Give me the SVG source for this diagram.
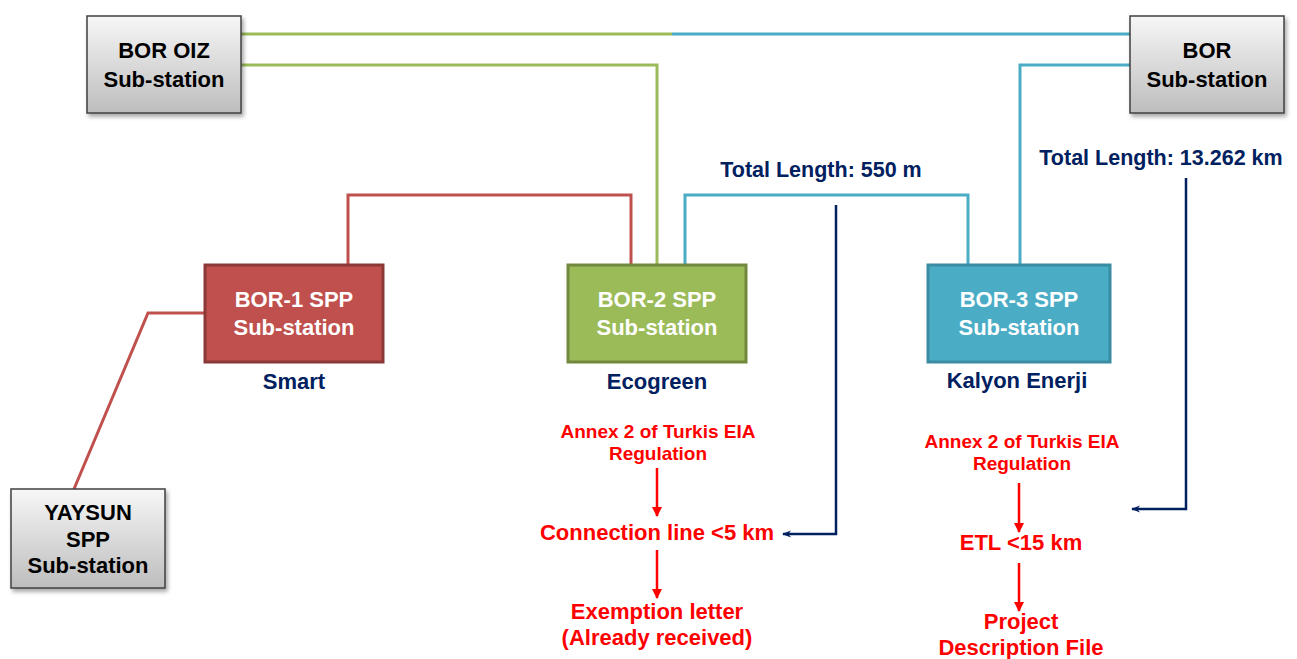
<svg xmlns="http://www.w3.org/2000/svg" width="1297" height="659" viewBox="0 0 1297 659">
<defs>
<linearGradient id="gray" x1="0" y1="0" x2="0" y2="1">
<stop offset="0" stop-color="#f7f7f7"/>
<stop offset="1" stop-color="#bdbdbd"/>
</linearGradient>
<filter id="sh" x="-10%" y="-10%" width="130%" height="130%">
<feDropShadow dx="2" dy="3" stdDeviation="2" flood-color="#000" flood-opacity="0.35"/>
</filter>
<marker id="ar" viewBox="0 0 10 10" refX="9" refY="5" markerWidth="10" markerHeight="10" markerUnits="userSpaceOnUse" orient="auto">
<path d="M0,0 L10,5 L0,10 z" fill="#ff0000"/>
</marker>
<marker id="an" viewBox="0 0 10 10" refX="9" refY="5" markerWidth="9" markerHeight="9" markerUnits="userSpaceOnUse" orient="auto">
<path d="M0,1 L10,5 L0,9 L3,5 z" fill="#002060"/>
</marker>
</defs>
<style>
text{font-family:"Liberation Sans",Arial,sans-serif;font-weight:bold;text-anchor:middle}
.gbox{fill:url(#gray);stroke:#404040;stroke-width:1.5;filter:url(#sh)}
.bt{font-size:22px;fill:#000}
.wt{font-size:22px;fill:#fff}
.nv{font-size:22px;fill:#002060}
.tl{font-size:21.5px;fill:#002060}
.rs{font-size:19px;fill:#ff0000}
.rl{font-size:22px;fill:#ff0000}
.g{stroke:#9bbb59;stroke-width:3;fill:none}
.b{stroke:#4bacc6;stroke-width:3;fill:none}
.r{stroke:#c0504d;stroke-width:3;fill:none}
.n{stroke:#002060;stroke-width:2.5;fill:none;marker-end:url(#an)}
.ra{stroke:#ff0000;stroke-width:2.5;fill:none;marker-end:url(#ar)}
</style>
<g id="connectors">
<path class="g" d="M241,34 H672"/>
<path class="b" d="M672,34 H1130"/>
<path class="g" d="M241,65 H657 V264"/>
<path class="b" d="M1130,65 H1020 V264"/>
<path class="r" d="M348,264 V195 H631 V264"/>
<path class="b" d="M685,264 V195 H968 V264"/>
<path class="r" d="M204,313 H148 L74,489"/>
<path class="n" d="M836,205 V534 H783"/>
<path class="n" d="M1186,178 V509 H1132"/>
<path class="ra" d="M657,468 V516"/>
<path class="ra" d="M657,550 V598"/>
<path class="ra" d="M1019,483 V532"/>
<path class="ra" d="M1019,563 V611"/>
</g>
<g id="bor-oiz">
<rect class="gbox" x="87" y="16" width="154" height="97"/>
<text class="bt" x="164" y="58">BOR OIZ</text>
<text class="bt" x="164" y="87">Sub-station</text>
</g>
<g id="bor">
<rect class="gbox" x="1130" y="16" width="154" height="97"/>
<text class="bt" x="1207" y="58">BOR</text>
<text class="bt" x="1207" y="87">Sub-station</text>
</g>
<g id="yaysun">
<rect class="gbox" x="11" y="489" width="154" height="99"/>
<text class="bt" x="88" y="520">YAYSUN</text>
<text class="bt" x="88" y="547">SPP</text>
<text class="bt" x="88" y="573">Sub-station</text>
</g>
<g id="bor1">
<rect x="205" y="265" width="178" height="97" fill="#c0504d" stroke="#8c3836" stroke-width="3"/>
<text class="wt" x="294" y="307">BOR-1 SPP</text>
<text class="wt" x="294" y="335">Sub-station</text>
<text class="nv" x="294" y="389">Smart</text>
</g>
<g id="bor2">
<rect x="568" y="265" width="178" height="97" fill="#9bbb59" stroke="#71893f" stroke-width="3"/>
<text class="wt" x="657" y="307">BOR-2 SPP</text>
<text class="wt" x="657" y="335">Sub-station</text>
<text class="nv" x="657" y="389">Ecogreen</text>
</g>
<g id="bor3">
<rect x="928" y="265" width="182" height="97" fill="#4bacc6" stroke="#3a8ca3" stroke-width="3"/>
<text class="wt" x="1019" y="307">BOR-3 SPP</text>
<text class="wt" x="1019" y="335">Sub-station</text>
<text class="nv" x="1017" y="388">Kalyon Enerji</text>
</g>
<g id="labels">
<text class="tl" x="821" y="177">Total Length: 550 m</text>
<text class="tl" x="1161" y="165">Total Length: 13.262 km</text>
</g>
<g id="flow-left">
<text class="rs" x="658" y="438">Annex 2 of Turkis EIA</text>
<text class="rs" x="658" y="460">Regulation</text>
<text class="rl" x="657" y="540">Connection line &lt;5 km</text>
<text class="rl" x="657" y="619">Exemption letter</text>
<text class="rl" x="657" y="645">(Already received)</text>
</g>
<g id="flow-right">
<text class="rs" x="1022" y="448">Annex 2 of Turkis EIA</text>
<text class="rs" x="1022" y="470">Regulation</text>
<text class="rl" x="1021" y="550">ETL &lt;15 km</text>
<text class="rl" x="1021" y="629">Project</text>
<text class="rl" x="1021" y="655">Description File</text>
</g>
</svg>
